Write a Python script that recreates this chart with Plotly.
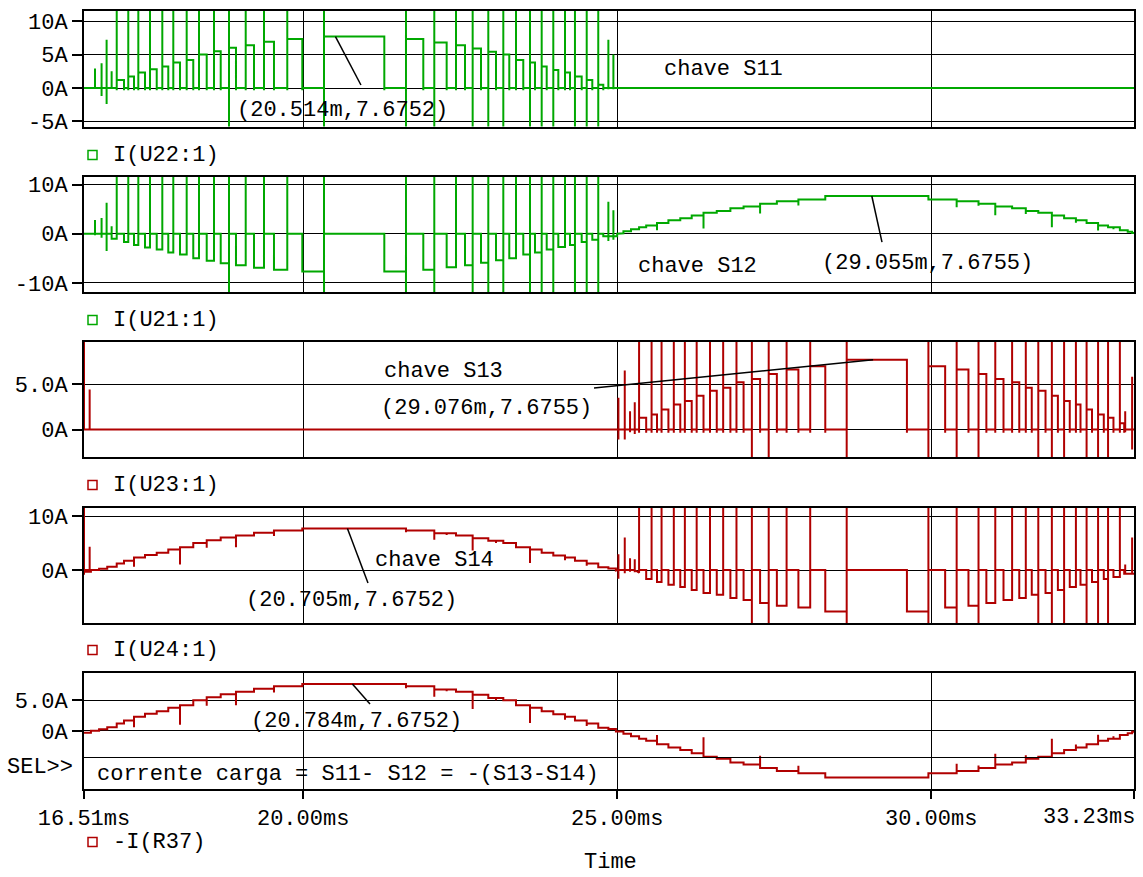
import plotly.graph_objects as go

T_START, T_END = 16.51, 33.23
SPIKE = 25.0          # switching spikes overshoot every panel range

# ---- first half-cycle: S11 PWM pulses (turn-on ms, turn-off ms, current A) ----
h1_on = [17.031, 17.215, 17.375, 17.561, 17.757, 17.932, 18.145, 18.341, 18.580, 18.819,
         19.085, 19.376, 19.747, 20.332, 21.637, 22.088, 22.434, 22.699, 22.948, 23.187,
         23.389, 23.612, 23.798, 23.983, 24.169, 24.328, 24.515, 24.699]
h1_off = [17.147, 17.306, 17.481, 17.668, 17.852, 18.039, 18.250, 18.464, 18.687, 18.930,
          19.217, 19.535, 19.986, 21.292, 21.913, 22.285, 22.577, 22.832, 23.071, 23.282,
          23.505, 23.692, 23.878, 24.063, 24.249, 24.435, 24.604, 24.779]
h1_lvl = [1.2, 1.7, 2.3, 2.8, 3.2, 3.8, 4.2, 5.0, 5.5, 6.0, 6.4, 6.9, 7.3, 7.6752,
          7.3, 6.8, 6.4, 5.9, 5.4, 5.0, 4.2, 3.8, 3.2, 2.7, 2.3, 1.7, 1.2, 0.5]
h1_deep = [0, 0, 0, 0, 0, 0, 0, 0, 0, 1, 0, 0, 0, 1, 1, 1, 0, 1, 1, 1,
           0, 1, 1, 1, 0, 1, 1, 1]

# ---- second half-cycle: S13 PWM pulses ----
h2_on = [25.349, 25.548, 25.707, 25.902, 26.078, 26.266, 26.478, 26.688, 26.900, 27.145,
         27.413, 27.698, 28.074, 28.655, 29.956, 30.406, 30.754, 31.021, 31.289, 31.507,
         31.706, 31.922, 32.117, 32.305, 32.475, 32.658, 32.817, 33.005]
h2_off = [25.462, 25.634, 25.816, 26.005, 26.187, 26.375, 26.586, 26.803, 27.013, 27.276,
          27.543, 27.886, 28.314, 29.614, 30.223, 30.594, 30.879, 31.152, 31.403, 31.602,
          31.821, 32.018, 32.207, 32.378, 32.561, 32.749, 32.903, 33.074]
h2_lvl = [1.3, 1.65, 2.2, 2.75, 3.15, 3.7, 4.25, 4.6, 5.2, 5.55, 6.1, 6.6, 6.95, 7.6755,
          6.95, 6.6, 6.1, 5.55, 5.2, 4.6, 4.25, 3.7, 3.15, 2.75, 2.2, 1.65, 1.3, 0.7]
h2_deep = [0, 0, 0, 0, 0, 0, 0, 0, 0, 1, 1, 0, 0, 1, 1, 1, 1, 0, 0, 0,
           1, 1, 1, 0, 1, 1, 1, 0]

# ---- start-up / end-of-cycle transients (time ms, peak A, trough A) ----
s11_boot_t, s11_boot_up, s11_boot_dn = [16.685, 16.79, 16.87, 16.95], [2.9, 3.7, 7.2, 2.5], [0.0, -1.2, -2.4, 0.0]
s12_boot_t, s12_boot_up, s12_boot_dn = [16.685, 16.79, 16.87, 16.95], [2.8, 3.2, 6.3, 1.5], [-0.3, -0.8, -3.5, -0.3]
s11_tail_t, s11_tail_up, s11_tail_dn = [24.86, 24.94], [7.2, 5.0], [-0.2, -0.2]
s12_tail_t, s12_tail_up, s12_tail_dn = [24.86, 24.94], [6.5, 4.8], [-1.5, -1.2]
s13_boot_t, s13_boot_up, s13_boot_dn = [25.02, 25.121, 25.205, 25.28], [3.5, 6.5, 2.0, 3.0], [-1.1, -1.1, -0.3, -0.5]
s14_boot_t, s14_boot_up, s14_boot_dn = [25.02, 25.121, 25.205, 25.28], [2.9, 6.0, 2.2, 2.0], [-1.6, -0.6, -0.3, -0.4]
s13_tail_t, s13_tail_up, s13_tail_dn = [33.09, 33.20], [2.0, 5.8], [-0.3, -2.2]
s14_tail_t, s14_tail_up, s14_tail_dn = [33.09, 33.20], [1.0, 6.0], [-0.6, -0.8]
sim_start_t, sim_start_up = [16.51, 16.60], [SPIKE, 4.4]

# ---- load current -I(R37): steps outside the pulse trains and switching notches ----
load_pre_t, load_pre_v = [16.51, 16.62, 16.75, 16.88], [-0.3, 0.0, 0.25, 0.6]
load_mid_t, load_mid_v = [24.86, 24.98, 25.10, 25.22], [0.3, -0.1, -0.5, -0.9]
load_end_t, load_end_v = [33.13, 33.20], [-0.4, -0.15]
notch1_t = [17.147, 17.306, 17.668, 17.852, 18.039, 18.250, 18.464, 18.687, 18.930, 19.217,
            19.535, 19.986, 21.637, 22.088, 22.285, 22.699, 23.071, 23.612, 24.169, 24.515]
notch1_d = [0.3, 1.7, 0.5, 0.4, 3.2, 0.4, 1.4, 0.4, 2.2, 0.4,
            1.0, 0.3, 0.3, 1.2, 0.3, 2.3, 0.4, 2.5, 0.5, 0.4]
notch2_t = [25.634, 26.005, 26.375, 26.803, 27.276, 27.886, 28.314, 30.406, 30.754, 31.021,
            31.507, 31.922, 32.305, 32.658, 32.903]
notch2_d = [1.5, 0.4, 3.2, 0.5, 2.0, 1.2, 0.3, 1.2, 0.4, 1.8, 0.6, 2.4, 0.5, 1.0, 0.4]

# ---- cursor read-outs ----
cursor_t = [20.514, 29.055, 29.076, 20.705, 20.784]
cursor_v = [7.6752, 7.6755, 7.6755, 7.6752, 7.6752]

trace_names = ["I(U22:1)", "I(U21:1)", "I(U23:1)", "I(U24:1)", "-I(R37)"]
x_ticks = [16.51, 20.0, 25.0, 30.0, 33.23]
x_tick_text = ["16.51ms", "20.00ms", "25.00ms", "30.00ms", "33.23ms"]
y_ticks = [[-5, 0, 5, 10], [-10, 0, 10], [0, 5], [0, 10], [0, 5]]
y_tick_text = [["-5A", "0A", "5A", "10A"], ["-10A", "0A", "10A"], ["0A", "5.0A"],
               ["0A", "10A"], ["0A", "5.0A"]]
y_ranges = [[-5.75, 11.5], [-11.85, 11.6], [-3.05, 9.62], [-9.87, 11.54], [-9.47, 9.44]]

GREEN, RED = "#00a800", "#b00000"
FONT = "Liberation Mono, Courier New, monospace"
FS = 22


def spikes(ts, ups, dns, base=0.0):
    xs, ys = [], []
    for t, u, d in zip(ts, ups, dns):
        xs += [t, t, t, t]
        ys += [base, u, d, base]
    return xs, ys


def on_leg(on, off, lvl, deep, undershoot=0.35):
    """Switch that carries the load current while it is gated on."""
    xs, ys = [], []
    for a, b, v, d in zip(on, off, lvl, deep):
        xs += [a, a, a, a, b, b, b]
        ys += [0.0, SPIKE, -SPIKE if d else -undershoot, v, v, -undershoot, 0.0]
    return xs, ys


def off_leg(on, off, lvl, deep, lead):
    """Complementary switch: freewheels the load current while the other is off."""
    xs, ys = [], []
    prev = -lead
    n = len(on)
    for i, (a, b, v, d) in enumerate(zip(on, off, lvl, deep)):
        nxt = lvl[i + 1] if i + 1 < n else v
        xs += [a, a, a, a, b, b]
        ys += [prev, SPIKE, -SPIKE if d else 0.0, 0.0, 0.0, -max(v, nxt)]
        prev = -max(v, nxt)
    return xs, ys, prev


def load_current():
    steps = list(zip(load_pre_t, load_pre_v))
    for seq_on, seq_off, seq_lvl, sgn in ((h1_on, h1_off, h1_lvl, 1), (h2_on, h2_off, h2_lvl, -1)):
        n = len(seq_on)
        for i in range(n):
            nxt = seq_lvl[i + 1] if i + 1 < n else seq_lvl[i]
            steps.append((seq_on[i], sgn * seq_lvl[i]))
            steps.append((seq_off[i], sgn * max(seq_lvl[i], nxt)))
        if sgn == 1:
            steps += list(zip(load_mid_t, load_mid_v))
    steps += list(zip(load_end_t, load_end_v))
    items = [(t, 0, v) for t, v in steps[1:]]
    items += [(t, 1, d) for t, d in zip(notch1_t + notch2_t, notch1_d + notch2_d)]
    items.sort()
    cur = steps[0][1]
    xs, ys = [steps[0][0]], [cur]
    for t, kind, val in items:
        if kind == 0:
            xs += [t, t]
            ys += [cur, val]
            cur = val
        else:
            s = 1.0 if cur > 0 else -1.0
            xs += [t, t, t]
            ys += [cur, cur - s * val, cur]
    xs.append(T_END)
    ys.append(cur)
    return xs, ys


lx, ly = load_current()
first_x = [x for x in lx if x < 25.0]
first_y = [y for x, y in zip(lx, ly) if x < 25.0]
second_x = [x for x in lx if x >= 25.0]
second_y = [-y for x, y in zip(lx, ly) if x >= 25.0]

# S11: I(U22:1)
bx, by = spikes(s11_boot_t, s11_boot_up, s11_boot_dn)
px, py = on_leg(h1_on, h1_off, h1_lvl, h1_deep)
tx, ty = spikes(s11_tail_t, s11_tail_up, s11_tail_dn)
s11_x = [T_START] + bx + px + tx + [T_END]
s11_y = [0.0] + by + py + ty + [0.0]

# S12: I(U21:1)
bx, by = spikes(s12_boot_t, s12_boot_up, s12_boot_dn)
px, py, last = off_leg(h1_on, h1_off, h1_lvl, h1_deep, lead=1.0)
tx, ty = spikes(s12_tail_t, s12_tail_up, s12_tail_dn, base=last)
s12_x = [T_START] + bx + [s12_boot_t[-1]] + px + tx + [25.0, 25.0] + second_x
s12_y = [0.0] + by + [-1.0] + py + ty + [last, 0.0] + second_y

# S13: I(U23:1)
ax, ay = spikes(sim_start_t, sim_start_up, [0.0, 0.0])
bx, by = spikes(s13_boot_t, s13_boot_up, s13_boot_dn)
px, py = on_leg(h2_on, h2_off, h2_lvl, h2_deep)
tx, ty = spikes(s13_tail_t, s13_tail_up, s13_tail_dn)
s13_x = ax + bx + px + tx + [T_END]
s13_y = ay + by + py + ty + [0.0]

# S14: I(U24:1)
ax, ay = spikes(sim_start_t, [SPIKE, 4.3], [-0.9, 0.0])
bx, by = spikes(s14_boot_t, s14_boot_up, s14_boot_dn)
px, py, last = off_leg(h2_on, h2_off, h2_lvl, h2_deep, lead=0.5)
tx, ty = spikes(s14_tail_t, s14_tail_up, s14_tail_dn, base=last)
s14_x = ax + first_x + [25.0] + bx + px + tx + [T_END]
s14_y = ay + first_y + [0.0] + by + py + ty + [last]

series = [(s11_x, s11_y, GREEN), (s12_x, s12_y, GREEN), (s13_x, s13_y, RED),
          (s14_x, s14_y, RED), (lx, ly, RED)]

W, H = 1143, 877
X0, X1 = 84, 1134
panels_px = [(11, 126.5), (176.7, 292), (342, 457.3), (507.7, 623.3), (673.3, 788.5)]

fig = go.Figure()
for i, (xs, ys, col) in enumerate(series):
    n = "" if i == 0 else str(i + 1)
    fig.add_trace(go.Scatter(x=xs, y=ys, mode="lines", line=dict(color=col, width=2),
                             xaxis="x" + n, yaxis="y" + n, hoverinfo="skip",
                             name=trace_names[i]))

layout = dict(width=W, height=H, margin=dict(l=0, r=0, t=0, b=0, pad=0), showlegend=False,
              paper_bgcolor="white", plot_bgcolor="white",
              font=dict(family=FONT, size=FS, color="black"))
for i, (top, bot) in enumerate(panels_px):
    n = "" if i == 0 else str(i + 1)
    last_panel = i == 4
    layout["xaxis" + n] = dict(
        domain=[X0 / W, X1 / W], range=[T_START, T_END], anchor="y" + n, automargin=False,
        tickvals=x_ticks, ticktext=x_tick_text[:-1] + [""],
        showticklabels=last_panel, ticks="outside" if last_panel else "",
        ticklen=8, tickcolor="black", tickwidth=1.5, ticklabelstandoff=0,
        showgrid=True, gridcolor="black", gridwidth=1.2, zeroline=False,
        showline=True, linecolor="black", linewidth=2, mirror=True,
        tickfont=dict(family=FONT, size=FS))
    layout["yaxis" + n] = dict(
        domain=[1 - bot / H, 1 - top / H], range=y_ranges[i], anchor="x" + n, automargin=False,
        tickvals=y_ticks[i], ticktext=y_tick_text[i], ticks="outside", ticklen=10,
        tickcolor="black", tickwidth=1.5, showgrid=True, gridcolor="black", gridwidth=1.2,
        zeroline=False, showline=True, linecolor="black", linewidth=2, mirror=True,
        tickfont=dict(family=FONT, size=FS))
fig.update_layout(**layout)

shapes = []
annotations = []

# cursor selection row under the bottom panel's trace area
shapes.append(dict(type="line", xref="x5 domain", yref="paper", x0=0, x1=1,
                   y0=1 - 757.5 / H, y1=1 - 757.5 / H, line=dict(color="black", width=1.2)))

# legend boxes and trace names
legend_y = [155, 320, 485, 650, 842]
legend_col = [GREEN, GREEN, RED, RED, RED]
for name, yy, col in zip(trace_names, legend_y, legend_col):
    shapes.append(dict(type="rect", xref="paper", yref="paper",
                       x0=88 / W, x1=97 / W, y0=1 - (yy + 4.5) / H, y1=1 - (yy - 4.5) / H,
                       line=dict(color=col, width=1.5), fillcolor="white"))
    annotations.append(dict(text=name, xref="paper", yref="paper", x=111 / W, y=1 - yy / H,
                            xanchor="left", yanchor="middle", showarrow=False))

# cursor leaders and read-outs: (label position, leader end) in data units
readout_pos = [(20.634, -3.43), (29.934, -5.96), (22.927, 2.36), (20.762, -5.56), (20.857, 1.6)]
leader_end = [(20.92, 0.45), (29.217, -1.69), (24.631, 4.56), (21.032, -2.41), (21.064, 4.39)]
for i in range(5):
    n = "" if i == 0 else str(i + 1)
    shapes.append(dict(type="line", xref="x" + n, yref="y" + n,
                       x0=cursor_t[i], y0=cursor_v[i], x1=leader_end[i][0], y1=leader_end[i][1],
                       line=dict(color="black", width=1.5)))
    annotations.append(dict(text=f"({cursor_t[i]:.3f}m,{cursor_v[i]:.4f})",
                            xref="x" + n, yref="y" + n, x=readout_pos[i][0], y=readout_pos[i][1],
                            xanchor="center", yanchor="middle", showarrow=False))

switch_labels = ["chave S11", "chave S12", "chave S13", "chave S14"]
switch_pos = [(26.701, 2.69), (26.287, -6.57), (22.227, 6.43), (22.099, 1.67)]
for i, (lab, (xx, yy)) in enumerate(zip(switch_labels, switch_pos)):
    n = "" if i == 0 else str(i + 1)
    annotations.append(dict(text=lab, xref="x" + n, yref="y" + n, x=xx, y=yy,
                            xanchor="center", yanchor="middle", showarrow=False))

annotations.append(dict(text="corrente carga = S11- S12 = -(S13-S14)", xref="paper", yref="paper",
                        x=95 / W, y=1 - 774 / H, xanchor="left", yanchor="middle", showarrow=False))
annotations.append(dict(text="SEL>>", xref="paper", yref="paper", x=75 / W, y=1 - 767 / H,
                        xanchor="right", yanchor="middle", showarrow=False))
annotations.append(dict(text=x_tick_text[-1], xref="paper", yref="paper", x=1137 / W,
                        y=1 - 817 / H, xanchor="right", yanchor="middle", showarrow=False))
annotations.append(dict(text="Time", xref="paper", yref="paper", x=610 / W, y=1 - 862 / H,
                        xanchor="center", yanchor="middle", showarrow=False))

fig.update_layout(shapes=shapes, annotations=annotations)
fig.write_html("out.html")
